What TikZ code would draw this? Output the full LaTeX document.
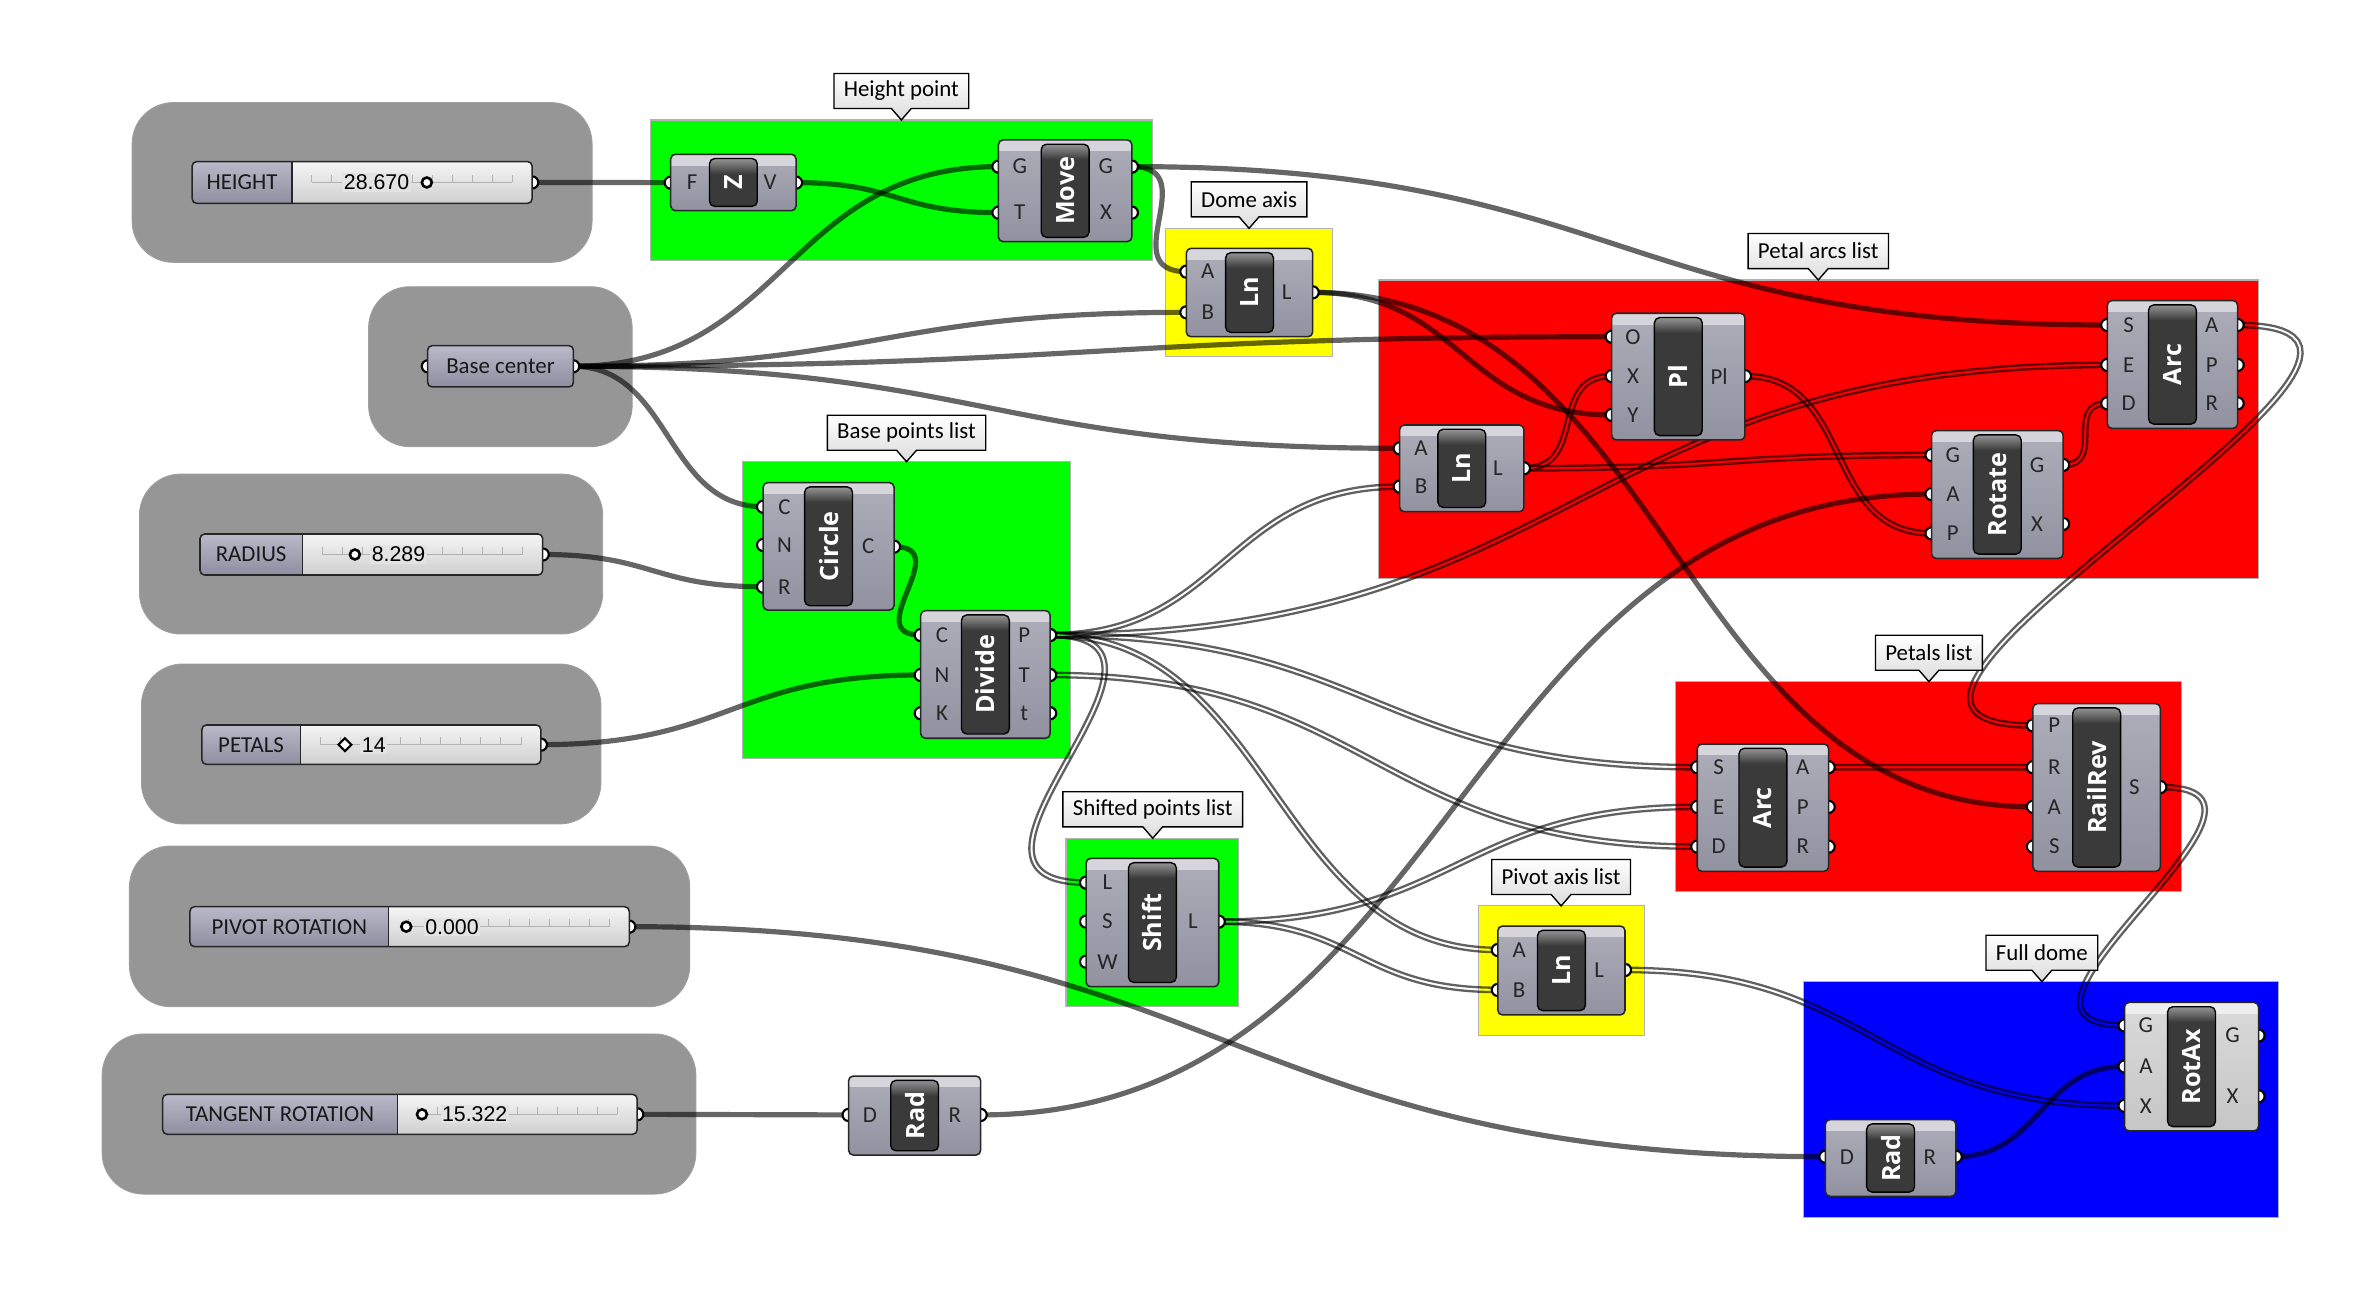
\documentclass[tikz,border=0pt]{standalone}
\usepackage{fontspec}
\setmainfont{Carlito}
\newfontfamily\nickfont{Open Sans}
\newfontfamily\valuefont{Liberation Sans}
\usetikzlibrary{shapes.geometric,shapes.callouts,decorations.pathmorphing,calc}

\definecolor{ghgray}{HTML}{969696}
\definecolor{ghgreen}{HTML}{00FF00}
\definecolor{ghred}{HTML}{FF0000}
\definecolor{ghyellow}{HTML}{FFFF00}
\definecolor{ghblue}{HTML}{0000FF}
\definecolor{ghtop}{HTML}{AEAEBA}
\definecolor{ghbot}{HTML}{9191A0}
\definecolor{ghband}{HTML}{D5D5DB}
\definecolor{ghlighttop}{HTML}{DADADA}
\definecolor{ghlightbot}{HTML}{C6C6C6}
\definecolor{ghlightband}{HTML}{EEEEEE}
\definecolor{ghbar}{HTML}{3A3A3A}
\definecolor{ghvaltop}{HTML}{F5F5F5}
\definecolor{ghvalbot}{HTML}{CFCFCF}
\definecolor{ghlabtop}{HTML}{B9B9C9}
\definecolor{ghlabbot}{HTML}{8E8EA0}

\pgfdeclarelayer{groups}
\pgfdeclarelayer{wires}
\pgfsetlayers{groups,wires,main}

\tikzset{
  ghpath/.style={to path={let \p1=(\tikztostart), \p2=(\tikztotarget),
      \n1={max(0.5*abs(\x2-\x1),0.7*abs(\y2-\y1))} in
      .. controls +(\n1,0) and +(-\n1,0) .. (\tikztotarget)}},
  wire/.style={ghpath, draw=black, draw opacity=.6, line width=3.4pt},
  listline/.style={draw=black, draw opacity=.62, line width=1.5pt, decorate,
      decoration={curveto, raise=#1}},
  listwire/.style={ghpath, postaction={listline=1.45pt}, postaction={listline=-1.45pt}},
  port/.style={draw=black, fill=white, line width=1.4pt},
  dark body/.style={top color=ghtop, bottom color=ghbot, rounded corners=3pt, inner sep=0pt},
  light body/.style={top color=ghlighttop, bottom color=ghlightbot, rounded corners=3pt, inner sep=0pt},
  dark band/.style={fill=ghband},
  light band/.style={fill=ghlightband},
  compedge/.style={draw=black!85, line width=1pt, rounded corners=3pt},
  nickbar/.style={fill=ghbar, rounded corners=3.5pt, minimum width=31pt, inner sep=0pt},
  baredge/.style={draw=black, line width=.9pt, rounded corners=3.5pt},
  nick/.style={font=\nickfont\bfseries\fontsize{16.5}{18}\selectfont, text=white, rotate=90, inner sep=0pt},
  portlabel/.style={font=\fontsize{15}{17}\selectfont, text=black!85, inner sep=0pt},
  sliderbody/.style={top color=ghvaltop, bottom color=ghvalbot, rounded corners=3pt, inner sep=0pt},
  labelpart/.style={top color=ghlabtop, bottom color=ghlabbot},
  slidertext/.style={font=\fontsize{15}{17}\selectfont, text=black!90, inner sep=0pt},
  valuetext/.style={font=\valuefont\fontsize{14}{16}\selectfont, fill=black!11, inner sep=1pt},
  rail/.style={draw=black!30, line width=.6pt},
  roundknob/.style={circle, draw=black, line width=1.7pt, fill=white, minimum size=6.5pt, inner sep=0pt},
  diamondknob/.style={diamond, draw=black, line width=1.4pt, fill=white, minimum size=9pt, inner sep=0pt},
  graygroup/.style={fill=ghgray, draw=black!38, line width=.6pt, rounded corners=27pt},
  colgroup/.style={draw=black!30, line width=.7pt},
  grouplabel/.style={rectangle callout, draw=black, line width=.9pt, top color=white,
      bottom color=black!14, callout pointer width=13pt, minimum height=23pt,
      inner xsep=6.5pt, inner ysep=0pt, font=\fontsize{15}{17}\selectfont}
}

% component: [colours]{name}{x1}{y1}{x2}{y2}{nickname}{inputs}{outputs}
\newcommand{\ghcomp}[9][dark]{%
  \foreach \pn/\py in {#8}{%
    \draw[port] (#3,\py) circle (4);
    \coordinate (#2-i\pn) at (#3,\py);}
  \foreach \pn/\py in {#9}{%
    \draw[port] (#5,\py) circle (4);
    \coordinate (#2-o\pn) at (#5,\py);}
  \node[#1 body, minimum width={(#5-#3)*1pt}, minimum height={(#6-#4)*1pt}] (#2) at ({(#3+#5)/2},{(#4+#6)/2}) {};
  \begin{scope}
    \clip[rounded corners=3pt] (#3,#4) rectangle (#5,#6);
    \fill[#1 band] (#3,#4) rectangle (#5,#4+7.5);
  \end{scope}
  \draw[compedge] (#3,#4) rectangle (#5,#6);
  \node[nickbar, minimum height={(#6-#4-6)*1pt}] (#2-bar) at (#2.center) {};
  \begin{scope}
    \clip[rounded corners=3.5pt] (#2-bar.north west) rectangle (#2-bar.south east);
    \fill[top color=black!42, bottom color=ghbar] (#2-bar.north west) rectangle ([yshift=-10pt]#2-bar.north east);
  \end{scope}
  \draw[baredge] (#2-bar.north west) rectangle (#2-bar.south east);
  \node[nick] (#2-nick) at (#2.center) {#7};
  \foreach \pn/\py in {#8}{\node[portlabel] (#2-li\pn) at (#3+14,\py) {\pn};}
  \foreach \pn/\py in {#9}{\node[portlabel] (#2-lo\pn) at (#5-17,\py) {\pn};}
}

\begin{document}
\begin{tikzpicture}[x=1pt, y=-1pt]
\useasboundingbox (0,0) rectangle (1560,862);

% grey groups round the inputs
\begin{pgfonlayer}{groups}
  \foreach \xa/\ya/\xb/\yb in {86.7/67.3/388.4/172.1, 241.8/188.1/414.7/293,
      91.5/311/395.4/415.9, 92.8/435.6/394.2/540.5, 84.9/555/452.5/660.4, 67/678.3/456.5/783.3}
    \draw[graygroup] (\xa,\ya) rectangle (\xb,\yb);
\end{pgfonlayer}

% coloured groups with their labels
\foreach \nm/\xa/\ya/\xb/\yb/\col/\lab/\tx in {
    heightgrp/426.5/78.7/756/171/ghgreen/Height point/591.3,
    domegrp/764.8/149.8/874/234/ghyellow/Dome axis/819.4,
    petalarcgrp/904.3/183.7/1481.8/379.4/ghred/Petal arcs list/1192.8,
    basegrp/486.8/302.9/702.2/497.5/ghgreen/Base points list/594.7,
    petalgrp/1099.4/447.2/1430.9/584.9/ghred/Petals list/1265.4,
    shiftgrp/699.3/549.9/812.6/660.4/ghgreen/Shifted points list/756.2,
    pivotgrp/970/594.3/1078.6/679/ghyellow/Pivot axis list/1024.1,
    domegrpfull/1183.4/644/1494.7/798.4/ghblue/Full dome/1339.5}{
  \begin{pgfonlayer}{groups}
    \draw[colgroup, fill=\col] (\xa,\ya) rectangle (\xb,\yb);
  \end{pgfonlayer}
  \node[grouplabel, callout absolute pointer={(\tx,\ya)}] (\nm) at (\tx,\ya-19) {\lab};
}

% sliders
\foreach \nm/\xa/\ya/\xb/\yb/\xs/\lab/\val/\vx/\kx/\kn in {
    height/126/106/349.1/133.4/191.6/HEIGHT/28.670/247/280/roundknob,
    radius/131.2/350.3/356/377.2/198.3/RADIUS/8.289/261.4/232.8/roundknob,
    petals/132.4/475.6/354.8/501.4/197/PETALS/14/245.2/226.3/diamondknob,
    pivot/124.6/594.8/412.8/621/255/PIVOT ROTATION/0.000/296.5/266.5/roundknob,
    tangent/106.7/717.9/418/744.1/260.6/TANGENT ROTATION/15.322/311.4/276.8/roundknob}{
  \draw[port] (\xb,{(\ya+\yb)/2}) circle (4);
  \coordinate (\nm-out) at (\xb,{(\ya+\yb)/2});
  \node[sliderbody, minimum width={(\xb-\xa)*1pt}, minimum height={(\yb-\ya)*1pt}] (\nm) at ({(\xa+\xb)/2},{(\ya+\yb)/2}) {};
  \begin{scope}
    \clip[rounded corners=3pt] (\xa,\ya) rectangle (\xb,\yb);
    \fill[labelpart] (\xa,\ya) rectangle (\xs,\yb);
  \end{scope}
  \draw[compedge] (\xa,\ya) rectangle (\xb,\yb);
  \draw[black!85, line width=.8pt] (\xs,\ya) -- (\xs,\yb);
  \draw[rail] (\xs+13,{(\ya+\yb)/2}) -- (\xb-13,{(\ya+\yb)/2});
  \foreach \k in {0,...,10}
    \draw[rail] ({\xs+13+\k*(\xb-\xs-26)/10},{(\ya+\yb)/2}) -- ++(0,-5);
  \node[slidertext] (\nm-label) at ({(\xa+\xs)/2},{(\ya+\yb)/2}) {\lab};
  \node[valuetext] (\nm-value) at (\vx,{(\ya+\yb)/2}) {\val};
  \node[\kn] (\nm-knob) at (\kx,{(\ya+\yb)/2}) {};
}

% base point parameter
\draw[port] (280.7,240.3) circle (4);
\draw[port] (376,240.3) circle (4);
\coordinate (base-out) at (376,240.3);
\node[labelpart, rounded corners=3pt, minimum width=95.3pt, minimum height=26.7pt, inner sep=0pt] (base) at (328.35,240.3) {};
\draw[compedge] (base.north west) rectangle (base.south east);
\node[slidertext] (base-label) at (base.center) {Base center};

% components
\ghcomp{unitz}{440}{101.2}{522.2}{138.2}{Z}{F/119.8}{V/119.8}
\ghcomp{move}{655}{91.8}{742.5}{158.5}{Move}{G/109.3,T/139.5}{G/109.3,X/139.5}
\ghcomp{domeln}{778.3}{162.9}{861.1}{220.9}{Ln}{A/178.2,B/204.9}{L/191.8}
\ghcomp{basecircle}{500.6}{316.6}{586.5}{400.2}{Circle}{C/332.4,N/357.5,R/384.9}{C/358.6}
\ghcomp{divide}{604}{400.6}{688.9}{484.3}{Divide}{C/416.6,N/442.8,K/467.9}{P/416.6,T/442.8,t/467.9}
\ghcomp{plane}{1057.3}{205.5}{1144.7}{288.6}{Pl}{O/220.9,X/246.7,Y/272.2}{Pl/246.7}
\ghcomp{baseln}{918.2}{278.8}{999.7}{335.7}{Ln}{A/294.1,B/319.2}{L/307.2}
\ghcomp{rotate}{1267.1}{282.5}{1353.4}{366.3}{Rotate}{G/298.5,A/324.1,P/349.9}{G/305,X/343.7}
\ghcomp{petalarc}{1382.4}{197.2}{1467.9}{281}{Arc}{S/213.2,E/239.4,D/264.6}{A/213.2,P/239.4,R/264.6}
\ghcomp{shiftarc}{1113.4}{488.1}{1199.6}{571.6}{Arc}{S/503.3,E/529.3,D/555.4}{A/503.3,P/529.3,R/555.4}
\ghcomp{railrev}{1333.6}{461.6}{1417.2}{571.6}{RailRev}{P/475.9,R/503.3,A/529.3,S/555.4}{S/516.3}
\ghcomp{shift}{712.5}{563.1}{799.5}{647.3}{Shift}{L/579,S/604.6,W/630.9}{L/604.6}
\ghcomp{pivotln}{982.6}{607.5}{1066}{665.8}{Ln}{A/623.2,B/649.4}{L/636.3}
\ghcomp[light]{rotax}{1393.7}{657.6}{1481.6}{741.9}{RotAx}{G/672.7,A/699.6,X/725.4}{G/679.3,X/719.2}
\ghcomp{tangentrad}{556.7}{705.9}{643.3}{757.7}{Rad}{D/731.4}{R/731.4}
\ghcomp{pivotrad}{1197.5}{734.5}{1283}{784.8}{Rad}{D/758.8}{R/758.8}

% wires
\begin{pgfonlayer}{wires}
  \draw[wire] (height-out) to (unitz-iF);
  \draw[wire] (unitz-oV) to (move-iT);
  \draw[wire] (base-out) to (move-iG);
  \draw[wire] (base-out) to (domeln-iB);
  \draw[wire] (base-out) to (plane-iO);
  \draw[wire] (base-out) to (baseln-iA);
  \draw[wire] (base-out) to (basecircle-iC);
  \draw[wire] (move-oG) to (domeln-iA);
  \draw[wire] (move-oG) to (petalarc-iS);
  \draw[wire] (domeln-oL) to (plane-iY);
  \draw[wire] (domeln-oL) to (railrev-iA);
  \draw[wire] (radius-out) to (basecircle-iR);
  \draw[wire] (petals-out) to (divide-iN);
  \draw[wire] (basecircle-oC) to (divide-iC);
  \draw[wire] (tangent-out) to (tangentrad-iD);
  \draw[wire] (tangentrad-oR) to (rotate-iA);
  \draw[wire] (pivot-out) to (pivotrad-iD);
  \draw[wire] (pivotrad-oR) to (rotax-iA);
  \path[listwire] (baseln-oL) to (plane-iX);
  \path[listwire] (baseln-oL) to (rotate-iG);
  \path[listwire] (plane-oPl) to (rotate-iP);
  \path[listwire] (rotate-oG) to (petalarc-iD);
  \path[listwire] (divide-oP) to (petalarc-iE);
  \path[listwire] (divide-oP) to (baseln-iB);
  \path[listwire] (divide-oP) to (shift-iL);
  \path[listwire] (divide-oP) to (pivotln-iA);
  \path[listwire] (divide-oP) to (shiftarc-iS);
  \path[listwire] (divide-oT) to (shiftarc-iD);
  \path[listwire] (shift-oL) to (shiftarc-iE);
  \path[listwire] (shift-oL) to (pivotln-iB);
  \path[listwire] (petalarc-oA) to (railrev-iP);
  \path[listwire] (shiftarc-oA) to (railrev-iR);
  \path[listwire] (railrev-oS) to (rotax-iG);
  \path[listwire] (pivotln-oL) to (rotax-iX);
\end{pgfonlayer}
\end{tikzpicture}
\end{document}
